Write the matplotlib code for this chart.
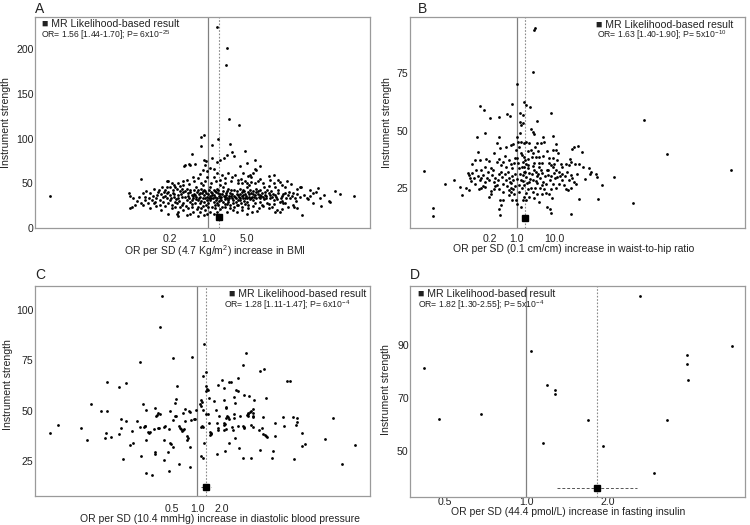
import numpy as np
import matplotlib
matplotlib.use("Agg")
import matplotlib.pyplot as plt

plt.rcParams['font.family'] = ['Liberation Sans', 'DejaVu Sans']
plt.rcParams['mathtext.fontset'] = 'custom'
plt.rcParams['mathtext.rm'] = 'Liberation Sans'
plt.rcParams['mathtext.it'] = 'Liberation Sans:italic'
plt.rcParams['mathtext.bf'] = 'Liberation Sans:bold'

# --- A: BMI (log10 OR per SNP, instrument strength) ---
pts_a = [
    (-2.88, 36), (0.17, 225), (0.35, 201), (0.32, 182), (0.38, 122), (0.56, 115),
    (-0.13, 102), (-0.07, 104), (0.19, 100), (0.08, 93), (0.40, 94), (0.68, 86),
    (-0.30, 83), (-0.12, 92),
    (-0.43, 69), (-0.34, 72), (-0.24, 71), (-0.08, 76), (-0.04, 75), (0.07, 78), (-0.05, 70),
    (-0.10, 65), (-0.02, 64), (0.04, 67), (0.10, 66), (0.16, 74), (0.22, 76), (0.29, 78),
    (0.34, 82), (0.43, 85), (0.47, 81),
    (-1.22, 55), (-0.72, 52), (-0.66, 50), (-0.60, 46), (-0.51, 47), (-0.46, 52), (-0.38, 54),
    (-0.28, 57), (-0.19, 56), (-0.15, 60), (-0.12, 50), (-0.05, 52), (-0.02, 57), (0.10, 57),
    (0.16, 61), (0.21, 54), (0.25, 59), (0.31, 56), (0.37, 62), (0.43, 57), (0.49, 59), (0.55, 54),
    (0.70, 73), (0.58, 69), (0.64, 61), (0.76, 59), (0.82, 61), (0.88, 65), (0.73, 58), (0.79, 57),
    (1.10, 58), (1.13, 54), (0.95, 69), (0.86, 66), (0.86, 76), (1.19, 59), (1.31, 51), (1.44, 52),
    (1.68, 45.5), (-0.75, 46), (-0.74, 52), (-0.42, 70), (-0.33, 70),
    (-0.99, 44), (-0.90, 43), (-0.84, 46), (-0.78, 43), (-0.75, 39), (-0.81, 35), (-0.93, 37),
    (-1.05, 39), (-1.12, 41), (-1.18, 39),
    (-1.43, 39), (-1.41, 36), (-1.36, 33), (-1.42, 22), (-1.39, 24), (-1.33, 26), (-1.21, 28), (-1.18, 26),
    (-1.15, 35), (-1.08, 33), (-1.02, 31), (-1.10, 28), (-0.99, 28), (-0.96, 29),
    (-0.87, 31), (-0.81, 29), (-0.75, 33), (-0.69, 31), (-0.87, 26), (-0.78, 25), (-0.72, 28),
    (-0.66, 26), (-0.60, 29), (-0.57, 28),
    (-0.69, 46), (-0.63, 43), (-0.57, 44), (-0.51, 41), (-0.54, 37), (-0.48, 35), (-0.63, 39), (-0.69, 37),
    (-0.45, 48), (-0.39, 44), (-0.33, 43), (-0.36, 39), (-0.30, 37), (-0.42, 35), (-0.39, 31), (-0.33, 29),
    (-0.27, 33), (-0.24, 28), (-0.45, 28), (-0.51, 24), (-0.54, 18), (-0.45, 20), (-0.36, 22), (-0.30, 24),
    (-0.33, 16), (-0.27, 18), (-0.39, 15),
    (-0.21, 46), (-0.18, 43), (-0.15, 39), (-0.12, 44), (-0.05, 41), (-0.08, 37), (-0.02, 35), (-0.21, 35),
    (-0.18, 31), (-0.15, 28), (-0.08, 29), (-0.04, 26), (-0.12, 22), (-0.05, 20), (-0.19, 24), (-0.15, 18),
    (-0.08, 15), (-0.02, 16), (-0.18, 13),
    (0.04, 46), (0.10, 43), (0.16, 44), (0.07, 37), (0.13, 35), (0.19, 39), (0.04, 31), (0.10, 29),
    (0.16, 28), (0.22, 33), (0.07, 24), (0.13, 22), (0.19, 26), (0.04, 18), (0.10, 16), (0.16, 18),
    (0.25, 24), (0.28, 29), (0.31, 35), (0.34, 41), (0.37, 44), (0.40, 39), (0.43, 33), (0.46, 28),
    (0.37, 29), (0.31, 24), (0.40, 22), (0.34, 18), (0.46, 20), (0.49, 35), (0.52, 41), (0.55, 31),
    (0.52, 26), (0.28, 46), (0.22, 48),
    (0.55, 50), (0.61, 50), (0.68, 52), (0.74, 48), (0.79, 51), (0.85, 50), (1.19, 50), (1.28, 54),
    (1.22, 46), (1.34, 48), (1.40, 46),
    (0.58, 44), (0.64, 43), (0.70, 46), (0.76, 43), (0.82, 41), (0.88, 44), (0.95, 43), (1.01, 46), (1.07, 43),
    (0.55, 37), (0.61, 40), (0.68, 38), (0.74, 35), (0.79, 39), (0.85, 37), (0.92, 35), (0.98, 39),
    (1.04, 37), (1.10, 39), (1.16, 35), (1.22, 37), (1.28, 39), (1.34, 36), (1.40, 39), (1.46, 37),
    (1.55, 39), (1.69, 46),
    (0.58, 31), (0.64, 34), (0.70, 29), (0.76, 32), (0.82, 31), (0.88, 33), (0.95, 29), (1.01, 32),
    (1.07, 28), (1.13, 33), (1.19, 31), (1.25, 32), (1.31, 29), (1.37, 28), (1.49, 33), (1.58, 34),
    (1.67, 35), (1.79, 34), (1.81, 32), (1.90, 39), (2.04, 34), (2.30, 41), (2.22, 29), (2.66, 36),
    (0.55, 26), (0.61, 24), (0.67, 27), (0.73, 22), (0.82, 25), (0.92, 22), (0.98, 26), (1.10, 27),
    (1.16, 24), (1.25, 20), (1.34, 30), (1.40, 28),
    (0.52, 18), (0.61, 20), (0.70, 16), (0.80, 18), (0.89, 19), (1.10, 22), (1.22, 18), (1.34, 21),
    (1.55, 26), (1.61, 22), (1.70, 15),
    (-0.72, 16), (-0.57, 16), (-0.55, 13), (2.20, 30), (1.60, 30), (1.56, 23),
    (-0.25, 38), (-0.20, 40), (-0.10, 41), (0.00, 38), (0.05, 40), (0.12, 41), (0.20, 36), (0.26, 38),
    (0.33, 37), (0.42, 36), (0.48, 42), (0.58, 38), (-0.35, 34), (-0.28, 36), (-0.16, 34), (-0.06, 33),
    (0.02, 34), (0.09, 33), (0.15, 31), (0.24, 31), (0.30, 32), (0.38, 33), (0.45, 31), (0.62, 36),
    (0.68, 34), (0.72, 40), (0.90, 41), (1.00, 35), (-0.45, 40), (-0.55, 33), (-0.62, 35), (-0.12, 30),
    (0.00, 28), (0.20, 30), (0.35, 27), (0.50, 29), (0.65, 30), (0.80, 35), (0.95, 37), (1.05, 33),
    # denser core
    (-0.95, 34), (-0.91, 40), (-0.85, 38), (-0.79, 36), (-0.73, 40), (-0.67, 34), (-0.61, 38), (-0.58, 32),
    (-0.52, 30), (-0.49, 38), (-0.47, 44), (-0.41, 41), (-0.37, 36), (-0.32, 40), (-0.29, 31), (-0.26, 42),
    (-0.23, 37), (-0.22, 32), (-0.17, 38), (-0.14, 35), (-0.11, 39), (-0.09, 33), (-0.07, 43), (-0.03, 39),
    (-0.01, 31), (0.01, 42), (0.03, 36), (0.06, 34), (0.08, 39), (0.11, 37), (0.14, 40), (0.17, 34),
    (0.18, 42), (0.21, 38), (0.23, 35), (0.27, 41), (0.29, 36), (0.32, 39), (0.35, 34), (0.36, 31),
    (0.39, 36), (0.41, 42), (0.44, 38), (0.47, 36), (0.50, 33), (0.53, 38), (0.56, 35), (0.59, 33),
    (0.63, 37), (0.66, 41), (0.69, 36), (0.71, 33), (0.75, 38), (0.78, 34), (0.81, 38), (0.84, 35),
    (0.87, 40), (0.91, 38), (0.94, 33), (0.97, 36), (1.03, 40), (1.06, 36), (1.12, 37), (1.15, 41),
    (1.18, 38), (1.24, 35), (1.27, 42), (1.32, 33), (1.36, 38), (1.42, 34), (1.48, 40), (1.52, 36),
    (1.62, 38), (1.75, 37), (1.85, 36), (1.97, 40), (2.10, 37), (2.40, 38),
    (-0.60, 24), (-0.48, 26), (-0.40, 25), (-0.30, 27), (-0.20, 21), (-0.10, 25), (0.00, 23), (0.12, 26),
    (0.22, 21), (0.30, 27), (0.40, 26), (0.48, 24), (0.60, 28), (0.72, 26), (0.85, 28), (1.00, 25),
    (1.20, 27), (1.45, 24), (1.30, 18), (1.90, 28), (2.05, 25),
    (-0.55, 50), (-0.35, 49), (-0.25, 52), (-0.10, 48), (0.05, 50), (0.15, 52), (0.30, 50), (0.42, 52),
    (0.60, 55), (0.70, 50), (0.90, 53), (1.00, 50), (1.50, 49), (1.62, 44), (1.85, 43), (2.00, 45),
    (1.10, 47), (0.95, 55),
    (-1.30, 30), (-1.25, 35), (-1.00, 36), (-0.95, 25), (-1.05, 22), (-1.15, 31), (-0.85, 20),
    (-0.65, 22), (-0.62, 48), (-0.80, 40),
]

# --- B: waist-to-hip ratio ---
pts_b = [
    (-2.44, 32.4), (-2.21, 16.4), (-2.21, 12.6), (-1.90, 26.9), (-1.67, 28.4), (-1.51, 25.4),
    (-1.45, 22.1), (-1.33, 25.1), (-1.25, 24.0),
    (5.67, 33.0), (3.97, 39.7), (3.36, 54.6), (3.08, 18.6), (2.57, 29.8), (2.26, 26.2), (2.16, 20.1),
    (1.44, 13.6), (0.49, 94.8), (0.47, 94.0), (0.43, 75.7), (0.00, 70.2),
    (-0.98, 60.7), (-0.86, 59.0), (-0.71, 55.6), (-0.47, 55.8), (-0.26, 57.2), (-0.17, 56.5), (-0.12, 61.6),
    (0.20, 62.6), (0.25, 61.2), (0.35, 60.1), (0.10, 57.5), (0.16, 56.8), (0.10, 53.9), (0.11, 52.4),
    (0.91, 57.5), (0.53, 54.3),
    (-1.05, 47.3), (-0.83, 48.8), (-0.53, 44.7), (-0.47, 47.0), (-0.44, 42.5), (-0.28, 42.9), (-0.15, 43.7),
    (-0.09, 44.1), (0.00, 47.3), (0.03, 45.1), (-0.02, 41.5),
    (-1.03, 40.7), (-0.96, 37.1), (-0.82, 37.8), (-1.11, 37.1), (-1.19, 35.6), (-0.72, 36.8), (-0.68, 33.5),
    (-0.53, 36.4), (-0.47, 37.4), (-0.41, 34.9), (-0.35, 36.4), (-0.28, 34.2), (-0.19, 37.1), (-0.15, 35.6),
    (-0.11, 33.5), (-0.06, 35.9),
    (-1.28, 31.6), (-1.25, 30.5), (-1.23, 29.1), (-1.18, 31.3), (-1.20, 28.1), (-1.14, 29.5), (-1.11, 26.9),
    (-1.07, 32.7), (-1.03, 30.1), (-0.98, 28.4), (-0.94, 29.1), (-0.89, 30.5), (-0.85, 27.6), (-0.79, 29.5),
    (-0.72, 28.6), (-0.65, 30.5), (-0.61, 27.6), (-0.56, 29.5), (-0.53, 26.2), (-0.50, 28.6), (-0.46, 31.0),
    (-0.39, 29.8), (-0.35, 26.9), (-0.28, 28.6), (-0.26, 25.7), (-0.21, 29.5), (-0.18, 27.6), (-0.12, 30.1),
    (-0.09, 28.4), (-0.04, 25.7),
    (-1.00, 24.7), (-0.94, 25.1), (-0.85, 25.4), (-0.67, 23.7), (-0.47, 24.7),
    (-0.44, 19.6), (-0.37, 19.9), (-0.41, 17.4), (-0.47, 16.0), (-0.44, 13.0),
    (-0.19, 21.8), (-0.15, 23.3), (-0.11, 19.9), (-0.06, 22.2), (-0.02, 19.6), (0.00, 18.1),
    (-0.72, 21.1), (-0.68, 22.5), (-0.59, 24.3), (-0.21, 24.0), (-0.15, 25.1), (-0.09, 24.3),
    (0.05, 26.2), (0.11, 28.4), (0.16, 30.5), (0.20, 32.0), (0.14, 25.1), (0.07, 23.3), (0.20, 21.1),
    (0.25, 19.6), (0.12, 40.0), (0.16, 36.4), (0.20, 34.2), (0.07, 33.5), (0.07, 42.9), (0.11, 45.1),
    (0.09, 48.8), (0.16, 53.1),
    (0.38, 50.5), (0.42, 49.5), (0.47, 48.5), (0.20, 44.4), (0.25, 45.1), (0.70, 47.3), (0.95, 47.6),
    (0.55, 44.7), (0.64, 44.7), (0.73, 45.1), (0.33, 44.4), (0.38, 41.5), (0.42, 40.0), (1.05, 44.1),
    (1.52, 42.9), (1.63, 43.4), (1.46, 41.8), (1.72, 40.7), (0.95, 41.5), (1.04, 41.5),
    (0.14, 39.3), (0.20, 38.3), (0.29, 37.4), (0.40, 38.3), (0.51, 38.6), (0.60, 38.3), (0.70, 38.8),
    (0.86, 35.9), (0.90, 34.9), (0.95, 34.2), (1.00, 35.6), (1.17, 35.6), (1.21, 34.2), (1.30, 35.3),
    (1.40, 37.4), (1.43, 36.4), (1.39, 34.9), (1.55, 35.6), (1.65, 35.6),
    (1.91, 33.5), (1.96, 32.0), (1.93, 31.0), (2.09, 31.0), (2.13, 29.8), (1.65, 20.3),
    (1.43, 30.5), (1.47, 29.1), (1.39, 28.4), (1.52, 27.6), (1.58, 26.9), (1.30, 24.7), (1.37, 24.0),
    (1.43, 25.1), (1.12, 32.0), (1.21, 31.0), (1.08, 29.8), (1.19, 28.4), (1.11, 26.9), (1.25, 26.2),
    (0.99, 31.3), (1.02, 29.5), (0.95, 26.9), (1.05, 25.1),
    (0.84, 32.7), (0.82, 30.5), (0.88, 28.4), (0.77, 26.6), (0.90, 24.7), (0.86, 22.5), (0.93, 20.8),
    (0.60, 34.2), (0.64, 32.7), (0.68, 31.3), (0.62, 29.5), (0.70, 27.6), (0.67, 26.2), (0.73, 24.3),
    (0.77, 22.8), (0.68, 22.2),
    (0.42, 34.5), (0.47, 33.0), (0.51, 32.0), (0.40, 31.0), (0.53, 30.1), (0.44, 28.4), (0.55, 27.2),
    (0.49, 25.1), (0.42, 23.3), (0.55, 22.5), (0.47, 20.8),
    (0.25, 35.6), (0.29, 33.5), (0.23, 32.0), (0.32, 31.6), (0.26, 29.8), (0.33, 27.6), (0.20, 26.2),
    (0.29, 24.3), (0.25, 22.8), (0.33, 21.1),
    (0.60, 18.9), (0.79, 16.7), (0.88, 16.0), (0.90, 14.1), (0.16, 19.6), (0.11, 16.7),
    # denser core
    (-0.95, 33.0), (-0.88, 26.0), (-0.75, 32.0), (-0.62, 33.0), (-0.58, 26.0), (-0.42, 32.0), (-0.37, 23.0),
    (-0.31, 31.0), (-0.24, 32.0), (-0.14, 27.0), (-0.05, 31.0), (0.02, 29.0), (0.04, 36.0), (0.09, 31.0),
    (0.14, 34.0), (0.18, 28.0), (0.22, 37.0), (0.27, 27.0), (0.31, 35.0), (0.36, 29.0), (0.38, 25.0),
    (0.45, 36.0), (0.50, 28.0), (0.57, 31.0), (0.58, 36.0), (0.63, 25.0), (0.66, 36.0), (0.75, 30.0),
    (0.80, 33.0), (0.85, 38.0), (0.92, 30.0), (0.97, 38.0), (1.03, 33.0), (1.08, 37.0), (1.15, 30.0),
    (1.27, 30.0), (1.34, 32.0), (1.60, 31.0), (1.75, 34.0), (1.82, 29.0), (-0.30, 39.0), (-0.60, 40.0),
    (0.02, 38.0), (0.30, 41.0), (0.56, 41.0), (0.80, 41.0), (1.10, 40.0), (-0.85, 34.0), (-0.05, 38.0),
    (0.48, 43.0),
]

# --- C: diastolic blood pressure ---
pts_c = [
    (-0.42, 106.8), (-0.45, 91.3), (-0.69, 74.0), (-0.29, 75.9), (-0.06, 76.6), (-1.08, 64.2),
    (-0.94, 61.6), (-0.86, 63.6), (-0.24, 62.2), (-0.25, 55.7), (-1.27, 53.3), (-0.65, 53.3),
    (-0.27, 53.7), (-1.16, 49.7), (-1.08, 49.9), (-0.61, 50.2), (-0.51, 51.4),
    (-0.47, 49.0), (-0.48, 47.8), (-0.45, 48.5), (-0.49, 47.2),
    (-0.33, 49.9), (-0.15, 51.0), (-0.09, 49.6), (-0.08, 49.2), (-0.01, 50.5), (-0.25, 47.4),
    (-0.17, 48.7), (-0.92, 45.8), (-0.86, 44.8), (-0.72, 44.9), (-0.63, 42.5), (-0.64, 42.0),
    (-0.62, 42.3), (-0.46, 41.6), (-0.47, 41.4), (-0.52, 41.1), (-0.68, 41.8), (-1.67, 43.0),
    (-1.40, 41.5), (-1.77, 39.0), (-1.32, 35.2), (-1.10, 39.1), (-1.11, 36.2), (-1.04, 36.7),
    (-0.94, 38.5), (-0.91, 41.5), (-0.78, 40.1), (-0.59, 39.6), (-0.57, 39.4), (-0.58, 39.0),
    (-0.40, 42.0), (-0.39, 42.2), (-0.34, 40.8), (-0.29, 45.4), (-0.26, 47.1),
    (-0.22, 42.5), (-0.20, 41.3), (-0.19, 40.7), (-0.18, 39.8), (-0.17, 40.3), (-0.16, 41.0),
    (-0.15, 44.8), (-0.12, 37.5), (-0.11, 36.5), (-0.07, 45.4), (-0.03, 45.7), (-0.02, 45.9),
    (-0.81, 32.9), (-0.77, 33.9), (-0.61, 35.4), (-0.40, 35.2), (-0.32, 34.0), (-0.31, 33.5),
    (-0.29, 32.1), (-0.12, 35.2), (-0.08, 32.1), (-0.50, 29.5), (-0.51, 28.5), (-0.35, 29.3),
    (-0.67, 27.6), (-0.89, 26.1), (-0.40, 25.6), (-0.22, 23.7), (-0.08, 22.2), (-0.61, 19.2),
    (-0.54, 17.9), (-0.34, 20.1),
    (0.08, 83.0), (0.59, 78.4), (0.55, 72.5), (0.76, 69.5), (0.81, 70.5), (1.09, 64.7), (1.12, 64.7),
    (0.11, 69.0), (0.07, 67.2), (0.11, 62.0), (0.12, 60.5), (0.11, 59.5), (0.13, 60.0),
    (0.30, 65.2), (0.39, 64.2), (0.41, 64.4), (0.49, 66.0), (0.25, 62.6), (0.32, 61.1), (0.47, 60.1),
    (0.50, 59.9), (0.57, 57.8), (0.63, 57.4), (0.69, 55.3), (0.83, 56.2),
    (0.05, 55.5), (0.06, 54.2), (0.04, 53.4), (0.05, 52.5), (0.07, 50.3),
    (0.14, 56.2), (0.20, 55.0), (0.33, 55.3), (0.44, 56.6), (0.46, 53.7), (0.35, 51.8), (0.35, 51.2),
    (0.23, 50.4), (0.11, 48.5), (0.13, 48.3), (0.26, 47.1),
    (0.36, 47.5), (0.35, 46.3), (0.37, 46.8), (0.39, 46.0), (0.45, 48.5), (0.45, 46.5), (0.52, 47.4),
    (0.60, 48.0), (0.61, 48.9), (0.62, 48.5), (0.62, 47.2), (0.64, 49.1),
    (0.65, 49.7), (0.68, 49.0), (0.68, 51.0), (0.67, 47.4), (0.67, 46.7),
    (0.80, 46.8), (0.94, 44.1), (1.04, 46.8), (1.16, 46.8), (1.21, 46.5), (1.05, 42.5), (1.19, 43.0),
    (1.21, 44.2), (1.64, 46.5),
    (0.05, 42.0), (0.06, 42.5), (0.07, 41.8), (0.14, 43.8),
    (0.16, 39.5), (0.17, 38.5), (0.17, 39.0), (0.16, 37.8),
    (0.24, 44.0), (0.25, 41.5), (0.25, 40.3),
    (0.32, 43.8), (0.33, 42.8), (0.34, 43.3), (0.35, 41.0), (0.33, 40.2),
    (0.42, 41.8), (0.43, 40.5), (0.50, 42.5), (0.56, 42.5), (0.57, 41.7), (0.57, 41.3), (0.65, 43.0),
    (0.67, 42.1),
    (0.75, 40.5), (0.78, 41.3), (0.80, 38.5), (0.82, 37.7), (0.83, 37.5), (0.84, 37.0), (0.94, 37.2),
    (1.26, 38.8), (1.54, 35.9), (1.90, 32.9), (1.27, 32.6), (1.30, 33.3), (0.09, 34.2), (0.39, 34.2),
    (0.34, 30.2), (0.46, 36.4), (0.51, 31.4), (0.24, 28.5), (0.05, 27.3), (0.07, 26.5), (0.55, 26.3),
    (0.65, 26.5), (0.76, 30.6), (0.91, 29.8), (0.90, 26.5), (1.17, 26.0), (1.75, 23.8),
]

# --- D: fasting insulin (OR, strength) ---
or_d = [0.42, 0.478, 0.68, 1.04, 1.195, 1.156, 1.276, 1.28, 1.69, 1.91, 2.62, 2.95, 3.30, 3.92, 3.92, 3.95, 5.73]
str_d = [81.4, 62.0, 63.9, 87.7, 74.9, 52.9, 73.0, 71.4, 61.5, 51.9, 108.6, 41.5, 61.6, 86.3, 82.8, 76.7, 89.6]

a_lor, a_str = np.array(pts_a).T
b_lor, b_str = np.array(pts_b).T
c_lor, c_str = np.array(pts_c).T

# MR likelihood-based estimates
est_or = [1.56, 1.63, 1.28, 1.82]
est_lo = [1.44, 1.40, 1.11, 1.30]
est_hi = [1.70, 1.90, 1.47, 2.55]
est_y = [12, 12, 12, 35.8]
est_txt = [
    "OR= 1.56 [1.44-1.70]; P= 6x10$^{-25}$",
    "OR= 1.63 [1.40-1.90]; P= 5x10$^{-10}$",
    "OR= 1.28 [1.11-1.47]; P= 6x10$^{-4}$",
    "OR= 1.82 [1.30-2.55]; P= 5x10$^{-4}$",
]

letters = ["A", "B", "C", "D"]
xlabels = [
    "OR per SD (4.7 Kg/m$^2$) increase in BMI",
    "OR per SD (0.1 cm/cm) increase in waist-to-hip ratio",
    "OR per SD (10.4 mmHg) increase in diastolic blood pressure",
    "OR per SD (44.4 pmol/L) increase in fasting insulin",
]
xticks = [[0.2, 1.0, 5.0], [0.2, 1.0, 10.0], [0.5, 1.0, 2.0], [0.5, 1.0, 2.0]]
yticks = [[0, 50, 100, 150, 200], [25, 50, 75], [25, 50, 75, 100], [50, 70, 90]]
xlims_log = [(-3.145, 2.945), (-2.82, 6.04), (-1.95, 2.084), (-0.429, 0.806)]
ylims = [(0, 235.8), (7.5, 99.5), (7.7, 111.7), (32.4, 112.5)]

series_x = [10 ** a_lor, 10 ** b_lor, 10 ** c_lor, np.array(or_d)]
series_y = [a_str, b_str, c_str, np.array(str_d)]

# layout (figure fractions)
rects = [
    [0.0467, 0.5657, 0.4467, 0.4019],
    [0.5467, 0.5657, 0.4467, 0.4019],
    [0.0467, 0.0552, 0.4467, 0.4000],
    [0.5467, 0.0533, 0.4467, 0.4019],
]
letter_pos = [(0.0467, 0.982), (0.557, 0.982), (0.0467, 0.476), (0.547, 0.476)]
xtick_pad = [4.5, 4.5, 5.5, 0.3]
xlabel_pos = [(0.537, -0.074), (0.487, -0.074), (0.552, -0.084), (0.473, -0.046)]
ylabel_x = [-0.072, -0.055, -0.067, -0.057]
ylabel_y = [0.5, 0.5, 0.53, 0.51]
leg_pos = [(0.02, 0.967, 0.915), (0.554, 0.962, 0.915), (0.578, 0.962, 0.91), (0.025, 0.96, 0.911)]
leg2_x = [0.019, 0.557, 0.564, 0.025]

TXT = "#222222"
FRAME = "#9a9a9a"

fig = plt.figure(figsize=(7.5, 5.25), dpi=100)

for i in range(4):
    ax = fig.add_axes(rects[i])
    ax.set_xscale("log")
    ax.set_xlim(10 ** xlims_log[i][0], 10 ** xlims_log[i][1])
    ax.set_ylim(*ylims[i])

    ax.axvline(1.0, color="#808080", lw=0.9, zorder=1)
    ax.axvline(est_or[i], color="#8a8a8a", lw=0.8, ls=(0, (1.5, 1.5)), zorder=1)

    ax.scatter(series_x[i], series_y[i], s=4, color="black", linewidths=0, zorder=3)

    ax.plot([est_lo[i], est_hi[i]], [est_y[i], est_y[i]], color="#555555", lw=0.7,
            ls=(0, (3, 2)), zorder=2)
    ax.plot([est_or[i]], [est_y[i]], marker="s", ms=5, color="black", zorder=4)

    ax.set_xticks(xticks[i])
    ax.set_xticklabels([f"{t:.1f}" for t in xticks[i]])
    ax.xaxis.set_minor_locator(matplotlib.ticker.NullLocator())
    ax.set_yticks(yticks[i])
    ax.tick_params(axis="x", length=0, pad=xtick_pad[i], labelsize=7.6, colors=TXT)
    ax.tick_params(axis="y", length=0, pad=1, labelsize=7.6, colors=TXT)
    for sp in ax.spines.values():
        sp.set_color(FRAME)
        sp.set_linewidth(0.9)

    ax.set_xlabel(xlabels[i], fontsize=7.5, color=TXT)
    ax.xaxis.set_label_coords(*xlabel_pos[i])
    ax.set_ylabel("Instrument strength", fontsize=7.6, color=TXT)
    ax.yaxis.set_label_coords(ylabel_x[i], ylabel_y[i])

    lx, ly1, ly2 = leg_pos[i]
    ax.text(lx, ly1, "\u25A0 MR Likelihood-based result", transform=ax.transAxes,
            fontsize=7.6, color=TXT, ha="left", va="center", zorder=5)
    ax.text(leg2_x[i], ly2, est_txt[i], transform=ax.transAxes,
            fontsize=6.2, color=TXT, ha="left", va="center", zorder=5)

    fig.text(letter_pos[i][0], letter_pos[i][1], letters[i], fontsize=10, color=TXT,
             ha="left", va="center")

fig.savefig("out.png", dpi=100)
